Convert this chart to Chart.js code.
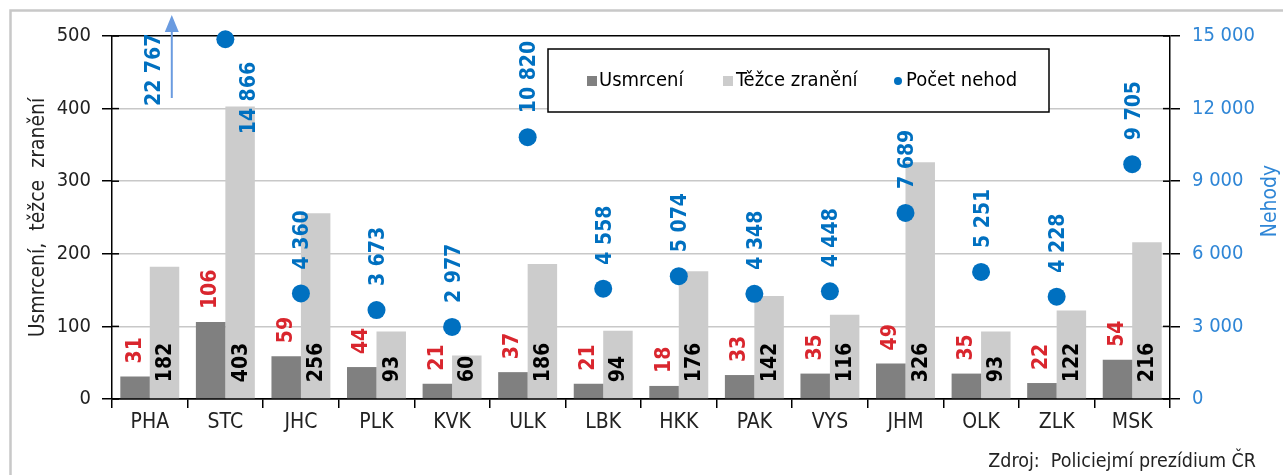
<!DOCTYPE html>
<html><head><meta charset="utf-8">
<script src="https://cdn.jsdelivr.net/npm/chart.js@4.4.1/dist/chart.umd.min.js"></script>
<style>html,body{margin:0;padding:0;background:#fff;overflow:hidden}#wrap{width:1283px;height:475px;position:relative}</style>
</head><body><div id="wrap"><canvas id="c" width="1283" height="475"></canvas></div>
<script>
const categories = ['PHA','STC','JHC','PLK','KVK','ULK','LBK','HKK','PAK','VYS','JHM','OLK','ZLK','MSK'];
const usmrceni = [31,106,59,44,21,37,21,18,33,35,49,35,22,54];
const tezceZraneni = [182,403,256,93,60,186,94,176,142,116,326,93,122,216];
const pocetNehod = [22767,14866,4360,3673,2977,10820,4558,5074,4348,4448,7689,5251,4228,9705];
const leftTicks = [0,100,200,300,400,500];
const rightTicks = [0,3000,6000,9000,12000,15000];
const seriesNames = ['Usmrcení','Těžce zranění','Počet nehod'];
const leftTitle = 'Usmrcení,  těžce  zranění';
const rightTitle = 'Nehody';
const sourceText = 'Zdroj:  Policiejmí prezídium ČR';

const FONT = "'DejaVu Sans Condensed','DejaVu Sans',sans-serif";
const C_DARK = '#808080', C_LIGHT = '#cccccc', C_BLUE = '#0070c0', C_BLUE2 = '#2f86d6', C_RED = '#d9262e', C_ARROW = '#6a9be0';
const fmt = v => String(v).replace(/\B(?=(\d{3})+(?!\d))/g, ' ');

const framePlugin = {
  id: 'frame',
  beforeDraw(chart) {
    const ctx = chart.ctx;
    ctx.save();
    ctx.fillStyle = '#fff';
    ctx.fillRect(0, 0, chart.width, chart.height);
    ctx.strokeStyle = '#c8c8c8';
    ctx.lineWidth = 2.5;
    ctx.beginPath();
    ctx.moveTo(10.5, chart.height + 5); ctx.lineTo(10.5, 10.5); ctx.lineTo(chart.width + 5, 10.5);
    ctx.stroke();
    ctx.restore();
  }
};

const labelPlugin = {
  id: 'labels',
  afterDatasetsDraw(chart) {
    const ctx = chart.ctx;
    const y1 = chart.scales.y1, ya = chart.scales.y, area = chart.chartArea;
    const LBL = 'bold 21px ' + FONT;
    function vtext(txt, x, yStart, color) {
      ctx.save();
      ctx.translate(x, yStart);
      ctx.rotate(-Math.PI / 2);
      ctx.fillStyle = color;
      ctx.font = LBL;
      ctx.textAlign = 'left';
      ctx.textBaseline = 'middle';
      ctx.fillText(txt, 0, 0);
      ctx.restore();
    }
    // inner tick marks on both value axes
    ctx.save();
    ctx.strokeStyle = '#000'; ctx.lineWidth = 1.5;
    leftTicks.forEach(v => {
      const y = ya.getPixelForValue(v);
      ctx.beginPath(); ctx.moveTo(area.left, y); ctx.lineTo(area.left + 7, y); ctx.stroke();
    });
    rightTicks.forEach(v => {
      const y = y1.getPixelForValue(v);
      ctx.beginPath(); ctx.moveTo(area.right, y); ctx.lineTo(area.right - 7, y); ctx.stroke();
    });
    ctx.restore();

    const m0 = chart.getDatasetMeta(1), m1 = chart.getDatasetMeta(2), m2 = chart.getDatasetMeta(0);
    m0.data.forEach((bar, i) => vtext(String(usmrceni[i]), bar.x, bar.y - 13, C_RED));
    m1.data.forEach((bar, i) => vtext(String(tezceZraneni[i]), bar.x + 1, bar.base - 16, '#000'));
    ctx.font = LBL;
    m2.data.forEach((pt, i) => {
      const v = pocetNehod[i];
      const txt = fmt(v);
      const w = ctx.measureText(txt).width;
      if (v > y1.max) {
        const ax = pt.x + 22;
        ctx.save();
        ctx.strokeStyle = C_ARROW; ctx.fillStyle = C_ARROW; ctx.lineWidth = 2;
        ctx.beginPath(); ctx.moveTo(ax, area.top + 62); ctx.lineTo(ax, area.top - 16); ctx.stroke();
        ctx.beginPath(); ctx.moveTo(ax, area.top - 21); ctx.lineTo(ax - 7, area.top - 4); ctx.lineTo(ax + 7, area.top - 4); ctx.closePath(); ctx.fill();
        ctx.restore();
        vtext(txt, pt.x + 5, area.top + 70, C_BLUE);
        ctx.font = LBL;
      } else if (pt.y - 24 - w < 2) {
        vtext(txt, pt.x + 24, pt.y + 95, C_BLUE);
        ctx.font = LBL;
      } else {
        vtext(txt, pt.x + 2, pt.y - 24, C_BLUE);
        ctx.font = LBL;
      }
    });
  },
  afterDraw(chart) {
    const ctx = chart.ctx, area = chart.chartArea;
    ctx.save();
    ctx.font = '21px ' + FONT;
    ctx.textAlign = 'center'; ctx.textBaseline = 'middle';
    ctx.fillStyle = '#222';
    ctx.translate(39, (area.top + area.bottom) / 2);
    ctx.rotate(-Math.PI / 2);
    ctx.fillText(leftTitle, 0, 0);
    ctx.restore();
    ctx.save();
    ctx.font = '21px ' + FONT;
    ctx.textAlign = 'center'; ctx.textBaseline = 'middle';
    ctx.fillStyle = C_BLUE2;
    ctx.translate(1271, 201);
    ctx.rotate(-Math.PI / 2);
    ctx.fillText(rightTitle, 0, 0);
    ctx.restore();
    // source
    ctx.save();
    ctx.font = '19.5px ' + FONT;
    ctx.fillStyle = '#222';
    ctx.textAlign = 'right'; ctx.textBaseline = 'middle';
    ctx.fillText(sourceText, 1256, 462);
    ctx.restore();
    // legend
    ctx.save();
    ctx.fillStyle = '#fff';
    ctx.fillRect(548, 49, 501, 63);
    ctx.strokeStyle = '#000'; ctx.lineWidth = 1.5;
    ctx.strokeRect(548, 49, 501, 63);
    const ly = 81;
    ctx.font = '20px ' + FONT;
    ctx.textAlign = 'left'; ctx.textBaseline = 'middle';
    ctx.fillStyle = C_DARK; ctx.fillRect(587, ly - 5, 10, 10);
    ctx.fillStyle = '#000'; ctx.fillText(seriesNames[0], 599, ly);
    ctx.fillStyle = C_LIGHT; ctx.fillRect(723, ly - 5, 10, 10);
    ctx.fillStyle = '#000'; ctx.fillText(seriesNames[1], 736, ly);
    ctx.fillStyle = C_BLUE; ctx.beginPath(); ctx.arc(898, ly, 4, 0, Math.PI * 2); ctx.fill();
    ctx.fillStyle = '#000'; ctx.fillText(seriesNames[2], 906, ly);
    ctx.restore();
  }
};

new Chart(document.getElementById('c'), {
  data: {
    labels: categories,
    datasets: [
      { type: 'line', label: seriesNames[2], data: pocetNehod, yAxisID: 'y1', showLine: false,
        pointRadius: 9, pointHoverRadius: 9, pointBackgroundColor: C_BLUE, pointBorderColor: C_BLUE, pointBorderWidth: 0,
        clip: false, order: 0 },
      { type: 'bar', label: seriesNames[0], data: usmrceni, yAxisID: 'y', backgroundColor: C_DARK,
        categoryPercentage: 0.78, barPercentage: 1.0, order: 1 },
      { type: 'bar', label: seriesNames[1], data: tezceZraneni, yAxisID: 'y', backgroundColor: C_LIGHT,
        categoryPercentage: 0.78, barPercentage: 1.0, order: 1 }
    ]
  },
  options: {
    responsive: false, animation: false, devicePixelRatio: 1,
    layout: { padding: { top: 36, left: 0, right: 0, bottom: 0 } },
    plugins: { legend: { display: false }, tooltip: { enabled: false } },
    scales: {
      x: {
        type: 'category', offset: true,
        grid: { offset: true, drawOnChartArea: false, tickLength: 9, color: '#000', lineWidth: 1.5 },
        border: { color: '#000', width: 1.5 },
        ticks: { font: { family: FONT, size: 21 }, color: '#222', padding: 2, maxRotation: 0, autoSkip: false },
        afterFit: s => { s.height = 76; }
      },
      y: {
        position: 'left', min: 0, max: 500,
        afterBuildTicks: s => { s.ticks = leftTicks.map(v => ({ value: v })); },
        grid: { color: c => (c.tick && (c.tick.value === 500 || c.tick.value === 0)) ? '#000' : '#c8c8c8',
                lineWidth: 1.5, tickLength: 10, tickColor: '#000' },
        border: { color: '#000', width: 1.5 },
        ticks: { font: { family: FONT, size: 20 }, color: '#222', padding: 11 },
        afterFit: s => { s.width = 112; }
      },
      y1: {
        position: 'right', min: 0, max: 15000,
        afterBuildTicks: s => { s.ticks = rightTicks.map(v => ({ value: v })); },
        grid: { drawOnChartArea: false, tickLength: 10, color: '#000', tickColor: '#000', lineWidth: 1.5 },
        border: { color: '#000', width: 1.5 },
        ticks: { font: { family: FONT, size: 20 }, color: C_BLUE2, padding: 12, callback: v => fmt(v) },
        afterFit: s => { s.width = 113; }
      }
    }
  },
  plugins: [framePlugin, labelPlugin]
});
</script>
</body></html>
